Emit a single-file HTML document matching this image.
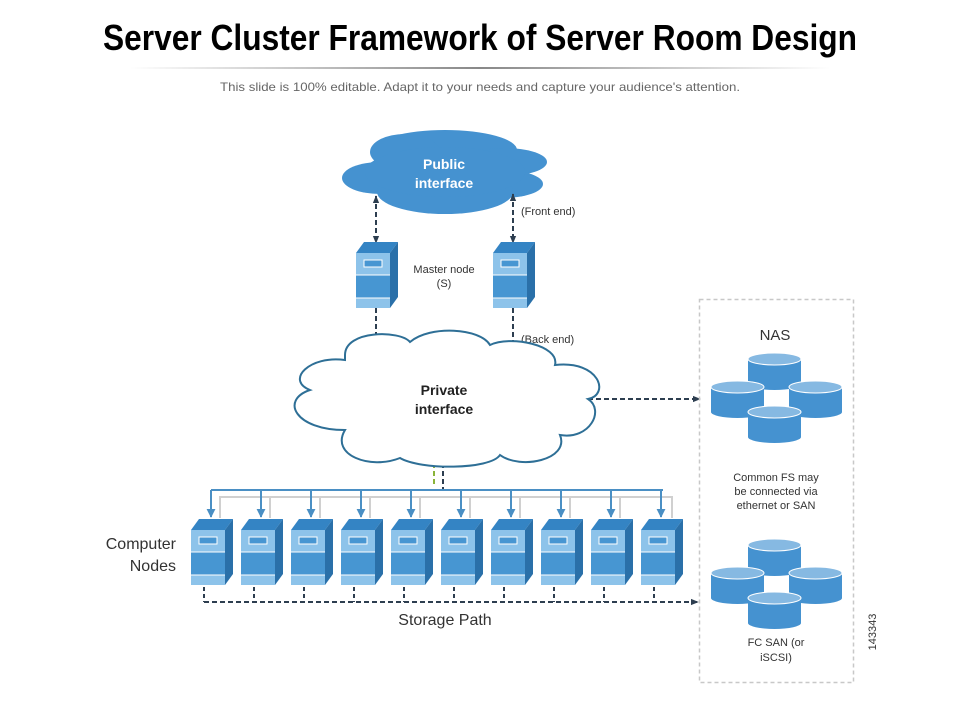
<!DOCTYPE html>
<html><head><meta charset="utf-8"><style>
html,body{margin:0;padding:0;background:#fff;}
svg{display:block;font-family:"Liberation Sans",sans-serif;}
</style></head><body>
<svg width="960" height="720" viewBox="0 0 960 720" xmlns="http://www.w3.org/2000/svg">
<defs>
<linearGradient id="ul" x1="0" x2="1" y1="0" y2="0">
<stop offset="0" stop-color="#fff"/><stop offset="0.5" stop-color="#888"/><stop offset="1" stop-color="#fff"/>
</linearGradient>
<g id="srv">
<polygon points="0,0 34,0 42,-11 8,-11" fill="#3484c4"/>
<polygon points="34,0 42,-11 42,44 34,55" fill="#2a70a9"/>
<rect x="0" y="0" width="34" height="22" fill="#8dc3ea"/>
<rect x="0" y="22" width="34" height="23" fill="#4796d2"/>
<rect x="0" y="45" width="34" height="10" fill="#8dc3ea"/>
<line x1="0" y1="22" x2="34" y2="22" stroke="#fff" stroke-width="1"/>
<line x1="0" y1="45" x2="34" y2="45" stroke="#fff" stroke-width="1"/>
<rect x="8" y="7" width="18" height="7" fill="#4796d2" stroke="#fff" stroke-width="1"/>
</g>
<g id="cyl">
<path d="M0,6 L0,31 A26.5,6 0 0 0 53,31 L53,6 Z" fill="#4592d0"/>
<ellipse cx="26.5" cy="6" rx="26.5" ry="6" fill="#86b9e2" stroke="#fff" stroke-width="1"/>
</g>
<g id="cyls">
<use href="#cyl" x="37" y="0"/>
<use href="#cyl" x="0" y="28"/>
<use href="#cyl" x="78" y="28"/>
<use href="#cyl" x="37" y="53"/>
</g>
<marker id="ah" viewBox="0 0 10 10" refX="9" refY="5" markerUnits="userSpaceOnUse" markerWidth="8" markerHeight="8" orient="auto-start-reverse"><path d="M0,1 L10,5 L0,9 Z" fill="#2d3e50"/></marker>
<marker id="ab" viewBox="0 0 10 10" refX="9" refY="5" markerUnits="userSpaceOnUse" markerWidth="9" markerHeight="9" orient="auto"><path d="M0,0 L10,5 L0,10 Z" fill="#4a8fc4"/></marker>
</defs>

<text x="480" y="50" text-anchor="middle" font-family="'Liberation Sans Narrow','Liberation Sans',sans-serif" font-weight="bold" font-size="36" textLength="754" lengthAdjust="spacingAndGlyphs" fill="#000">Server Cluster Framework of Server Room Design</text>
<rect x="130" y="67" width="700" height="2" fill="url(#ul)"/>
<text x="480" y="91" text-anchor="middle" font-size="12" fill="#666" textLength="520" lengthAdjust="spacingAndGlyphs">This slide is 100% editable. Adapt it to your needs and capture your audience's attention.</text>

<!-- public cloud -->
<g fill="#4592d0">
<ellipse cx="445" cy="150" rx="72" ry="20"/>
<ellipse cx="380" cy="178" rx="38" ry="16"/>
<ellipse cx="505" cy="162" rx="42" ry="14"/>
<ellipse cx="503" cy="184" rx="40" ry="14"/>
<ellipse cx="445" cy="192" rx="68" ry="22"/>
<ellipse cx="405" cy="152" rx="35" ry="18"/>
<ellipse cx="445" cy="172" rx="80" ry="25"/>
</g>
<text x="444" y="169" text-anchor="middle" font-weight="bold" font-size="14" fill="#fff">Public</text>
<text x="444" y="188" text-anchor="middle" font-weight="bold" font-size="14" fill="#fff">interface</text>

<g stroke="#2d3e50" stroke-width="2" stroke-dasharray="5,3" fill="none">
<line x1="376" y1="196" x2="376" y2="243" marker-start="url(#ah)" marker-end="url(#ah)"/>
<line x1="513" y1="194" x2="513" y2="243" marker-start="url(#ah)" marker-end="url(#ah)"/>
<line x1="376" y1="308" x2="376" y2="346" marker-end="url(#ah)"/>
<line x1="513" y1="308" x2="513" y2="348" marker-end="url(#ah)"/>
<line x1="588" y1="399" x2="700" y2="399" marker-end="url(#ah)"/>
<line x1="443" y1="463" x2="443" y2="490"/>
<line x1="204" y1="602" x2="698" y2="602" marker-end="url(#ah)"/>
</g>
<line x1="434" y1="463" x2="434" y2="487" stroke="#8ab43a" stroke-width="2" stroke-dasharray="5,3"/>

<text x="521" y="215" font-size="11" fill="#333">(Front end)</text>
<text x="521" y="343" font-size="11" fill="#333">(Back end)</text>
<text x="444" y="273" text-anchor="middle" font-size="11" fill="#333">Master node</text>
<text x="444" y="287" text-anchor="middle" font-size="11" fill="#333">(S)</text>

<use href="#srv" x="356" y="253"/>
<use href="#srv" x="493" y="253"/>

<!-- private cloud -->
<path d="M345,355 C345,330 400,330 410,342 C430,325 480,328 490,345 C510,335 560,345 555,365 C600,360 610,395 588,399 C605,410 590,440 560,435 C570,460 520,470 500,455 C490,470 420,470 400,458 C370,470 330,455 345,430 C295,430 280,400 310,390 C285,380 310,355 345,360 Z" fill="#fff" stroke="#2e6f96" stroke-width="2"/>
<text x="444" y="395" text-anchor="middle" font-weight="bold" font-size="14" fill="#222">Private</text>
<text x="444" y="414" text-anchor="middle" font-weight="bold" font-size="14" fill="#222">interface</text>

<!-- buses -->
<g stroke="#d0d0d0" stroke-width="2" fill="none">
<polyline points="220,518 220,497 672,497 672,518"/>
<line x1="270" y1="497" x2="270" y2="518"/><line x1="320" y1="497" x2="320" y2="518"/>
<line x1="370" y1="497" x2="370" y2="518"/><line x1="420" y1="497" x2="420" y2="518"/>
<line x1="470" y1="497" x2="470" y2="518"/><line x1="520" y1="497" x2="520" y2="518"/>
<line x1="570" y1="497" x2="570" y2="518"/><line x1="620" y1="497" x2="620" y2="518"/>
</g>
<g stroke="#4a8fc4" stroke-width="2" fill="none">
<line x1="211" y1="490" x2="663" y2="490"/>
<line x1="211" y1="490" x2="211" y2="517" marker-end="url(#ab)"/>
<line x1="261" y1="490" x2="261" y2="517" marker-end="url(#ab)"/>
<line x1="311" y1="490" x2="311" y2="517" marker-end="url(#ab)"/>
<line x1="361" y1="490" x2="361" y2="517" marker-end="url(#ab)"/>
<line x1="411" y1="490" x2="411" y2="517" marker-end="url(#ab)"/>
<line x1="461" y1="490" x2="461" y2="517" marker-end="url(#ab)"/>
<line x1="511" y1="490" x2="511" y2="517" marker-end="url(#ab)"/>
<line x1="561" y1="490" x2="561" y2="517" marker-end="url(#ab)"/>
<line x1="611" y1="490" x2="611" y2="517" marker-end="url(#ab)"/>
<line x1="661" y1="490" x2="661" y2="517" marker-end="url(#ab)"/>
</g>

<use href="#srv" x="191" y="530"/><use href="#srv" x="241" y="530"/>
<use href="#srv" x="291" y="530"/><use href="#srv" x="341" y="530"/>
<use href="#srv" x="391" y="530"/><use href="#srv" x="441" y="530"/>
<use href="#srv" x="491" y="530"/><use href="#srv" x="541" y="530"/>
<use href="#srv" x="591" y="530"/><use href="#srv" x="641" y="530"/>

<g stroke="#2d3e50" stroke-width="2" stroke-dasharray="4,3">
<line x1="204" y1="587" x2="204" y2="602"/><line x1="254" y1="587" x2="254" y2="602"/>
<line x1="304" y1="587" x2="304" y2="602"/><line x1="354" y1="587" x2="354" y2="602"/>
<line x1="404" y1="587" x2="404" y2="602"/><line x1="454" y1="587" x2="454" y2="602"/>
<line x1="504" y1="587" x2="504" y2="602"/><line x1="554" y1="587" x2="554" y2="602"/>
<line x1="604" y1="587" x2="604" y2="602"/><line x1="654" y1="587" x2="654" y2="602"/>
</g>

<text x="176" y="549" text-anchor="end" font-size="16" fill="#333">Computer</text>
<text x="176" y="571" text-anchor="end" font-size="16" fill="#333">Nodes</text>
<text x="445" y="625" text-anchor="middle" font-size="16" fill="#333">Storage Path</text>

<!-- NAS box -->
<rect x="699.5" y="299.5" width="154" height="383" fill="none" stroke="#c8c8c8" stroke-width="1.5" stroke-dasharray="4,3"/>
<text x="775" y="340" text-anchor="middle" font-size="15" fill="#333">NAS</text>
<use href="#cyls" x="711" y="353"/>
<use href="#cyls" x="711" y="539"/>
<g font-size="11" fill="#333" text-anchor="middle">
<text x="776" y="481">Common FS may</text>
<text x="776" y="495">be connected via</text>
<text x="776" y="509">ethernet or SAN</text>
<text x="776" y="646">FC SAN (or</text>
<text x="776" y="661">iSCSI)</text>
</g>
<text x="0" y="0" font-size="11" fill="#333" text-anchor="middle" transform="translate(876,632) rotate(-90)">143343</text>
</svg>
</body></html>
